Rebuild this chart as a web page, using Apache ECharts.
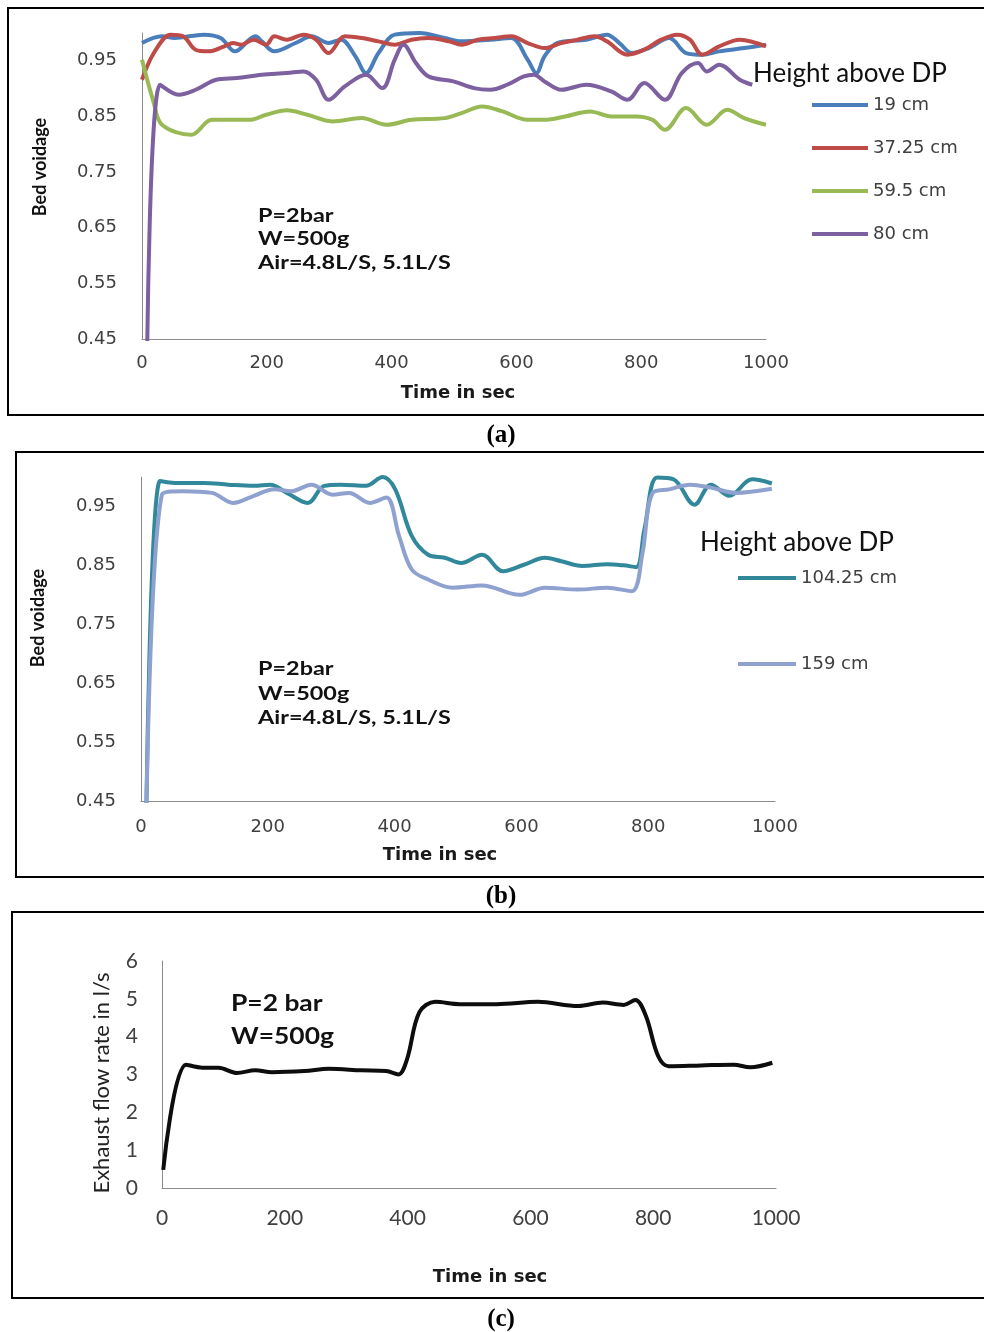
<!DOCTYPE html>
<html>
<head>
<meta charset="utf-8">
<script src="https://cdn.jsdelivr.net/npm/echarts@6/dist/echarts.min.js"></script>
<style>
  html, body { margin: 0; padding: 0; background: #fff; }
  #chart { width: 984px; height: 1332px; }
</style>
</head>
<body>
<div id="chart"></div>
<script>
// ---- panel (a): bed voidage, lower heights ----
const tA19 = [0, 32, 52, 99, 126, 149, 172, 182, 192, 212, 246, 272, 299, 319, 342, 359, 379, 405, 445, 485, 512, 558, 592, 618, 632, 645, 665, 712, 745, 765, 785, 812, 845, 872, 898, 925, 965, 1000]
const vA19 = [0.982, 0.994, 0.991, 0.997, 0.991, 0.967, 0.988, 0.994, 0.985, 0.967, 0.982, 0.994, 0.982, 0.988, 0.958, 0.928, 0.964, 0.997, 1.0, 0.991, 0.985, 0.988, 0.991, 0.952, 0.928, 0.958, 0.982, 0.988, 0.997, 0.982, 0.964, 0.973, 0.991, 0.964, 0.961, 0.967, 0.973, 0.979]

const tA37 = [0, 19, 46, 66, 86, 106, 132, 146, 159, 179, 199, 212, 232, 259, 279, 299, 325, 352, 379, 405, 432, 459, 492, 512, 538, 565, 592, 618, 645, 672, 698, 725, 745, 778, 805, 832, 858, 878, 898, 925, 958, 1000]
const vA37 = [0.916, 0.964, 0.997, 0.994, 0.970, 0.967, 0.976, 0.982, 0.979, 0.988, 0.979, 0.994, 0.988, 0.997, 0.988, 0.964, 0.994, 0.991, 0.985, 0.979, 0.988, 0.991, 0.985, 0.979, 0.988, 0.991, 0.994, 0.982, 0.973, 0.982, 0.988, 0.994, 0.985, 0.961, 0.970, 0.988, 0.997, 0.988, 0.961, 0.976, 0.988, 0.976]

const tA59 = [0, 19, 32, 79, 112, 172, 199, 232, 265, 305, 352, 392, 432, 485, 512, 545, 578, 618, 645, 678, 718, 752, 792, 818, 838, 872, 905, 938, 965, 1000]
const vA59 = [0.952, 0.874, 0.835, 0.817, 0.844, 0.844, 0.853, 0.861, 0.853, 0.841, 0.847, 0.835, 0.844, 0.847, 0.856, 0.868, 0.859, 0.844, 0.844, 0.850, 0.859, 0.850, 0.850, 0.844, 0.826, 0.865, 0.835, 0.862, 0.847, 0.835]

const tA80 = [8, 29, 59, 86, 119, 152, 192, 232, 259, 279, 299, 325, 359, 385, 405, 419, 439, 459, 499, 532, 558, 585, 612, 628, 645, 672, 712, 752, 778, 805, 838, 865, 891, 905, 925, 958, 978]
const vA80 = [0.40, 0.907, 0.889, 0.898, 0.916, 0.919, 0.925, 0.928, 0.931, 0.916, 0.880, 0.904, 0.925, 0.901, 0.952, 0.979, 0.946, 0.922, 0.913, 0.901, 0.898, 0.907, 0.922, 0.925, 0.913, 0.898, 0.907, 0.895, 0.880, 0.910, 0.880, 0.928, 0.946, 0.931, 0.943, 0.916, 0.907]

// ---- panel (b): bed voidage, upper heights ----
const tB104 = [8, 30, 53, 99, 138, 178, 204, 230, 263, 289, 315, 355, 381, 401, 427, 453, 479, 505, 538, 571, 604, 637, 663, 696, 735, 761, 781, 794, 814, 840, 873, 899, 928, 964, 995]
const vB104 = [0.40, 0.993, 0.990, 0.990, 0.987, 0.985, 0.987, 0.973, 0.956, 0.985, 0.987, 0.985, 1.0, 0.979, 0.900, 0.868, 0.863, 0.854, 0.868, 0.840, 0.851, 0.863, 0.857, 0.849, 0.852, 0.850, 0.847, 0.911, 0.999, 0.996, 0.953, 0.987, 0.968, 0.996, 0.989]

const tB159 = [8, 33, 66, 112, 145, 178, 210, 237, 269, 302, 328, 361, 387, 407, 427, 453, 492, 538, 597, 637, 689, 735, 774, 791, 807, 833, 866, 899, 938, 995]
const vB159 = [0.40, 0.970, 0.976, 0.973, 0.956, 0.968, 0.979, 0.976, 0.987, 0.970, 0.973, 0.956, 0.965, 0.900, 0.843, 0.826, 0.812, 0.816, 0.800, 0.812, 0.809, 0.812, 0.806, 0.871, 0.973, 0.979, 0.987, 0.982, 0.973, 0.980]

// ---- panel (c): exhaust flow rate ----
const tC = [2, 39, 66, 92, 122, 152, 179, 232, 272, 325, 365, 385, 399, 419, 445, 485, 545, 612, 678, 718, 752, 771, 788, 808, 825, 878, 931, 958, 994]
const vC = [0.48, 3.26, 3.18, 3.18, 3.04, 3.11, 3.06, 3.09, 3.15, 3.11, 3.09, 3.00, 3.40, 4.64, 4.92, 4.86, 4.86, 4.92, 4.81, 4.90, 4.84, 4.97, 4.55, 3.49, 3.22, 3.24, 3.26, 3.19, 3.31]

const timeTicks = [0, 200, 400, 600, 800, 1000]

const zip = (t, v) => t.map((x, i) => [x, v[i]])

const axisGrey = '#8c8c8c'
const labelGrey = '#404040'
const wideFont = 'DejaVu Sans'
const calibriLike = 'Lato'

function timeAxis(gridIndex, labelFont, labelMargin, nameGap, namePad) {
  return {
    type: 'value',
    gridIndex,
    min: timeTicks[0],
    max: timeTicks[timeTicks.length - 1],
    interval: 200,
    axisLine: { lineStyle: { color: axisGrey, width: 1 } },
    axisTick: { show: false },
    splitLine: { show: false },
    axisLabel: {
      color: labelGrey, fontFamily: labelFont.family, fontSize: labelFont.size, margin: labelMargin,
      formatter: v => String(v)
    },
    name: 'Time in sec',
    nameLocation: 'middle',
    nameGap,
    nameTextStyle: { fontFamily: wideFont, fontWeight: 'bold', fontSize: 18, color: '#1a1a1a', padding: namePad }
  }
}

function voidAxis(gridIndex) {
  return {
    type: 'value',
    gridIndex,
    min: 0.45,
    max: 1.0,
    interval: 0.1,
    axisLine: { show: true, lineStyle: { color: axisGrey, width: 1 } },
    axisTick: { show: false },
    splitLine: { show: false },
    axisLabel: {
      color: labelGrey, fontFamily: wideFont, fontSize: 18, margin: 25,
      showMaxLabel: false,
      formatter: v => v.toFixed(2)
    }
  }
}

function line(name, data, color, xi, width) {
  return {
    name, type: 'line', xAxisIndex: xi, yAxisIndex: xi,
    data, smooth: 0.35, symbol: 'none', clip: true,
    lineStyle: { color, width: width || 4 },
    itemStyle: { color }
  }
}

const legendText = { color: labelGrey, fontFamily: wideFont, fontSize: 18 }

// bold Calibri-like notes, stretched sideways as in the source figure
function note(x, y, text, size, lh, sx) {
  return {
    type: 'text', x, y, scaleX: sx,
    style: { text, fontFamily: calibriLike, fontWeight: 'bold', fontSize: size, fill: '#111', lineHeight: lh }
  }
}

function caption(y, text) {
  return {
    type: 'text', x: 501, y,
    style: { text, fontFamily: 'Liberation Serif', fontWeight: 'bold', fontSize: 25, fill: '#000', align: 'center', verticalAlign: 'middle' }
  }
}

const chart = echarts.init(document.getElementById('chart'))

chart.setOption({
  backgroundColor: '#fff',
  animation: false,
  grid: [
    { left: 142, top: 33, width: 624, height: 306 },
    { left: 141, top: 477, width: 634, height: 324 },
    { left: 162, top: 961, width: 614, height: 227 }
  ],
  xAxis: [
    timeAxis(0, { family: wideFont, size: 18 }, 15, 45, [0, 0, 0, 8]),
    timeAxis(1, { family: wideFont, size: 18 }, 17, 45, [0, 36, 0, 0]),
    timeAxis(2, { family: calibriLike, size: 21 }, 20, 80, [0, 0, 0, 42])
  ],
  yAxis: [
    voidAxis(0),
    voidAxis(1),
    {
      type: 'value', gridIndex: 2, min: 0, max: 6, interval: 1,
      axisLine: { show: true, lineStyle: { color: axisGrey, width: 1 } },
      axisTick: { show: false },
      splitLine: { show: false },
      axisLabel: { color: labelGrey, fontFamily: calibriLike, fontSize: 21, margin: 24 }
    }
  ],
  legend: [
    {
      data: ['19 cm', '37.25 cm', '59.5 cm', '80 cm'],
      orient: 'vertical', left: 807, top: 91,
      icon: 'rect', itemWidth: 56, itemHeight: 4, itemGap: 25, itemStyle: { borderWidth: 0 },
      textStyle: legendText
    },
    {
      data: ['104.25 cm', '159 cm'],
      orient: 'vertical', left: 733, top: 564,
      icon: 'rect', itemWidth: 58, itemHeight: 4, itemGap: 68, itemStyle: { borderWidth: 0 },
      textStyle: legendText
    }
  ],
  series: [
    line('19 cm', zip(tA19, vA19), '#4a7ebb', 0),
    line('37.25 cm', zip(tA37, vA37), '#be4b48', 0),
    line('59.5 cm', zip(tA59, vA59), '#98b954', 0),
    line('80 cm', zip(tA80, vA80), '#7d60a0', 0),
    line('104.25 cm', zip(tB104, vB104), '#31889a', 1),
    line('159 cm', zip(tB159, vB159), '#8fa2cf', 1),
    line('Exhaust', zip(tC, vC), '#0d0d0d', 2)
  ],
  graphic: [
    // panel frames
    { type: 'rect', shape: { x: 8, y: 8, width: 990, height: 407 }, style: { fill: 'none', stroke: '#000', lineWidth: 2 }, z: -1 },
    { type: 'rect', shape: { x: 16, y: 452, width: 990, height: 425 }, style: { fill: 'none', stroke: '#000', lineWidth: 2 }, z: -1 },
    { type: 'rect', shape: { x: 12, y: 912, width: 990, height: 386 }, style: { fill: 'none', stroke: '#000', lineWidth: 2 }, z: -1 },
    // y axis titles
    { type: 'text', x: 40, y: 167, rotation: Math.PI / 2, style: { text: 'Bed voidage', fontFamily: calibriLike, fontWeight: 'bold', fontSize: 18, fill: '#111', align: 'center', verticalAlign: 'middle' } },
    { type: 'text', x: 38, y: 618, rotation: Math.PI / 2, style: { text: 'Bed voidage', fontFamily: calibriLike, fontWeight: 'bold', fontSize: 18, fill: '#111', align: 'center', verticalAlign: 'middle' } },
    { type: 'text', x: 102, y: 1083, rotation: Math.PI / 2, style: { text: 'Exhaust flow rate in l/s', fontFamily: calibriLike, fontSize: 22, fill: '#222', align: 'center', verticalAlign: 'middle' } },
    // legend headings
    { type: 'text', x: 753, y: 74, style: { text: 'Height above DP', fontFamily: calibriLike, fontSize: 26, fill: '#111', verticalAlign: 'middle' } },
    { type: 'text', x: 700, y: 543, style: { text: 'Height above DP', fontFamily: calibriLike, fontSize: 26, fill: '#111', verticalAlign: 'middle' } },
    // condition notes
    note(258, 204, 'P=2bar\nW=500g\nAir=4.8L/S, 5.1L/S', 18, 23.5, 1.3),
    note(258, 657, 'P=2bar\nW=500g\nAir=4.8L/S, 5.1L/S', 18, 24.5, 1.3),
    note(231, 987, 'P=2 bar\nW=500g', 22, 33, 1.2),
    // captions
    caption(436, '(a)'),
    caption(897, '(b)'),
    caption(1320, '(c)')
  ]
})
</script>
</body>
</html>
